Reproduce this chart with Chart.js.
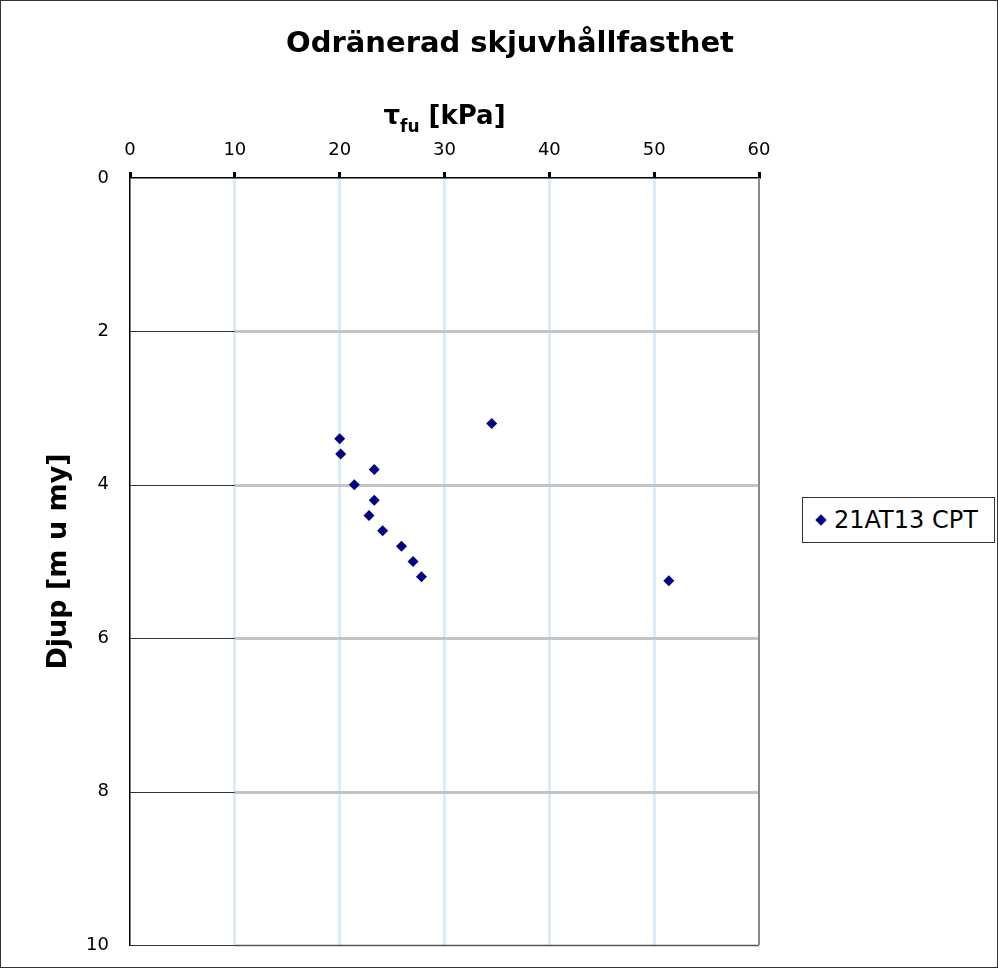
<!DOCTYPE html>
<html>
<head>
<meta charset="utf-8">
<script src="https://cdn.jsdelivr.net/npm/chart.js@4/dist/chart.umd.min.js"></script>
<style>
  html,body{margin:0;padding:0;background:#fff;}
  #wrap{position:relative;width:998px;height:968px;}
  #legend{position:absolute;left:802px;top:497px;width:191px;height:44px;border:1px solid #333;background:#fff;
    font:24px "DejaVu Sans",Verdana,sans-serif;color:#000;display:flex;align-items:center;box-sizing:content-box;}
  #legend .mk{display:inline-block;width:8px;height:8px;background:#000080;transform:rotate(45deg);margin:0 9px 0 14px;}
</style>
</head>
<body>
<div id="wrap">
  <canvas id="c" width="998" height="968"></canvas>
  <div id="legend"><span class="mk"></span><span id="legText"></span></div>
</div>
<script>
const seriesName = '21AT13 CPT';
const depth = [3.2, 3.4, 3.6, 3.8, 4.0, 4.2, 4.4, 4.6, 4.8, 5.0, 5.2, 5.25];
const tauFu = [34.5, 20.0, 20.1, 23.3, 21.4, 23.3, 22.8, 24.1, 25.9, 27.0, 27.8, 51.4];
const xTicks = [0, 10, 20, 30, 40, 50, 60];
const yTicks = [0, 2, 4, 6, 8, 10];

const FONT = '"DejaVu Sans", Verdana, sans-serif';

// Excel-ish frame: dark stub 0-10, grey grid 10-60, grey right edge
const excelFrame = {
  id: 'excelFrame',
  beforeDatasetsDraw(chart){
    const {ctx, scales:{x, y}} = chart;
    const x0 = x.getPixelForValue(0), x10 = x.getPixelForValue(10), x60 = x.getPixelForValue(60);
    ctx.save();
    yTicks.forEach(v => {
      if (v === 0) return;
      const py = Math.round(y.getPixelForValue(v)) + 0.5;
      ctx.strokeStyle = v === 10 ? '#555' : '#c4c4c4';
      ctx.lineWidth = v === 10 ? 1.5 : 3;
      ctx.beginPath(); ctx.moveTo(x10, py); ctx.lineTo(x60, py); ctx.stroke();
      ctx.strokeStyle = '#333'; ctx.lineWidth = 1.2;
      ctx.beginPath(); ctx.moveTo(x0, py); ctx.lineTo(x10, py); ctx.stroke();
    });
    ctx.strokeStyle = '#8a8a8a'; ctx.lineWidth = 2;
    ctx.beginPath(); ctx.moveTo(x60, y.getPixelForValue(0)); ctx.lineTo(x60, y.getPixelForValue(10)); ctx.stroke();
    ctx.restore();
  },
  afterDraw(chart){
    const {ctx, scales:{x}, chartArea} = chart;
    ctx.save();
    // outer border
    ctx.strokeStyle = '#333'; ctx.lineWidth = 1;
    ctx.strokeRect(0.5, 0.5, chart.width - 1, chart.height - 1);
    // x axis title with subscript
    const big = 'bold 26px ' + FONT, small = 'bold 17px ' + FONT;
    ctx.font = big; const wT = ctx.measureText('τ').width, wR = ctx.measureText(' [kPa]').width;
    ctx.font = small; const wS = ctx.measureText('fu').width;
    let cx = (x.left + x.right) / 2 - (wT + wS + wR) / 2;
    const by = chartArea.top - 54;
    ctx.fillStyle = '#000'; ctx.textBaseline = 'alphabetic'; ctx.textAlign = 'left';
    ctx.font = big; ctx.fillText('τ', cx, by); cx += wT;
    ctx.font = small; ctx.fillText('fu', cx, by + 8); cx += wS;
    ctx.font = big; ctx.fillText(' [kPa]', cx, by);
    ctx.restore();
  }
};

document.getElementById('legText').textContent = seriesName;

new Chart(document.getElementById('c'), {
  type: 'scatter',
  data: {
    datasets: [{
      label: seriesName,
      data: depth.map((d, i) => ({x: tauFu[i], y: d})),
      pointStyle: 'rectRot',
      radius: 5.5,
      backgroundColor: '#000080',
      borderColor: '#000080',
      borderWidth: 0
    }]
  },
  options: {
    responsive: false,
    animation: false,
    layout: { padding: { left: 22, right: 0, top: 0, bottom: 23 } },
    plugins: {
      legend: { display: false },
      tooltip: { enabled: false },
      title: {
        display: true, text: 'Odränerad skjuvhållfasthet', color: '#000',
        font: { family: FONT, size: 29, weight: 'bold' },
        padding: { top: 26.6, bottom: 0 }
      }
    },
    scales: {
      x: {
        type: 'linear', position: 'top', min: 0, max: 60,
        afterBuildTicks: s => { s.ticks = xTicks.map(v => ({value: v})); },
        afterFit: s => { s.height = 116.6; },
        ticks: { color: '#000', font: { family: FONT, size: 18 }, padding: 11 },
        grid: {
          color: c => c.tick.value === 0 || c.tick.value === 60 ? 'rgba(0,0,0,0)' : '#dcebf7',
          lineWidth: 3, tickColor: '#000', tickLength: 6, drawTicks: true
        },
        border: { display: true, color: '#000', width: 1.5 }
      },
      y: {
        type: 'linear', reverse: true, min: 0, max: 10,
        afterBuildTicks: s => { s.ticks = yTicks.map(v => ({value: v})); },
        // label padding must not push the plot area up from the bottom
        afterFit: s => { s.width = 108; s.paddingTop = 11; s.paddingBottom = 11; },
        ticks: { color: '#000', font: { family: FONT, size: 18 }, padding: 21 },
        grid: { display: false, drawTicks: false },
        border: { display: true, color: '#000', width: 1.5 },
        title: {
          display: true, text: 'Djup [m u my]', color: '#000',
          font: { family: FONT, size: 27, weight: 'bold' }, padding: { top: 21 }
        }
      },
      // empty right-hand spacer that keeps room for the legend box
      spacer: {
        type: 'linear', position: 'right', display: true,
        afterFit: s => { s.width = 239; s.paddingTop = 0; s.paddingBottom = 0; },
        ticks: { display: false },
        grid: { display: false, drawTicks: false },
        border: { display: false }
      }
    }
  },
  plugins: [excelFrame]
});
</script>
</body>
</html>
